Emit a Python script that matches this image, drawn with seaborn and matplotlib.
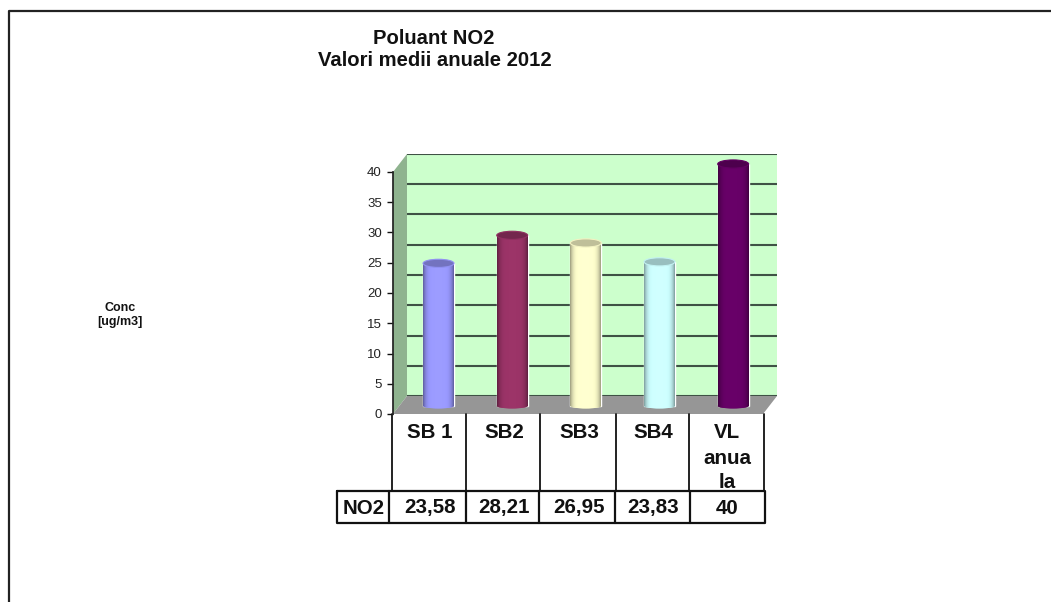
import matplotlib
matplotlib.use("Agg")
import matplotlib.pyplot as plt
import numpy as np
import seaborn as sns
from matplotlib.patches import Ellipse, Polygon

categorii = ["SB 1", "SB2", "SB3", "SB4", "VL anuala"]
etichete = ["SB 1", "SB2", "SB3", "SB4", "VL\nanua\nla"]
valori = [23.58, 28.21, 26.95, 23.83, 40]
valori_text = ["23,58", "28,21", "26,95", "23,83", "40"]
culori = ["#9999FF", "#993366", "#FFFFCC", "#CCFFFF", "#660066"]
y_ticks = [0, 5, 10, 15, 20, 25, 30, 35, 40]

W, H = 1051, 602
sns.set_theme(style="white")
plt.rcParams["font.family"] = ["Liberation Sans", "DejaVu Sans"]


def axe_px(fig, x0, x1, y0, y1):
    # pozitie in pixeli, y masurat de sus
    return fig.add_axes([x0 / W, 1 - y1 / H, (x1 - x0) / W, (y1 - y0) / H])


def umbrire(culoare):
    # gradient de cilindru: margini inchise, centru deschis
    rgb = np.array(matplotlib.colors.to_rgb(culoare))
    t = np.linspace(-1, 1, 64)
    f = 0.62 + 0.4 * np.clip(1 - np.abs(t) ** 5, 0, 1)
    return np.clip(rgb * f[:, None], 0, 1)[None, :, :]


fig = plt.figure(figsize=(W / 100, H / 100), dpi=100)

# fundal in pixeli: cadru, tabel, texte
bg = fig.add_axes([0, 0, 1, 1])
bg.set_xlim(0, W)
bg.set_ylim(H, 0)
bg.axis("off")
bg.plot([8.5, 8.5, W], [H, 11, 11], color="#222222", lw=1.6)

bg.add_patch(Polygon([(393, 172), (407, 154), (407, 396), (393, 414)], fc="#8FB38F", ec="none"))
bg.add_patch(Polygon([(393, 414), (407, 396), (777, 396), (763, 414)], fc="#969696", ec="none"))

titlu = dict(ha="center", va="center", fontsize=14.6, fontweight="bold", color="#111111")
bg.text(433.5, 38, "Poluant NO2", **titlu)
bg.text(435, 61, "Valori medii anuale 2012", **titlu)
bg.text(120, 315, "Conc\n[ug/m3]", ha="center", va="center", fontsize=9, fontweight="bold", color="#111111")

# tabelul de sub grafic
x_coloane = [392, 466, 540, 616, 689, 763.5]
for x in x_coloane:
    bg.plot([x, x], [414, 490], color="#111111", lw=1.3)
bg.plot([337, 765, 765, 337, 337], [491, 491, 523, 523, 491], color="#111111", lw=1.6)
for x in [389, 466, 539, 615, 690]:
    bg.plot([x, x], [491, 523], color="#111111", lw=1.6)
celula = dict(ha="center", va="center", fontsize=14.8, fontweight="bold", color="#111111")
bg.text(364, 508, "NO2", **celula)
for i in range(5):
    xc = (x_coloane[i] + x_coloane[i + 1]) / 2 + 1
    bg.text(xc, 508, valori_text[i], **celula)
    for j, rand in enumerate(etichete[i].split("\n")):
        bg.text(xc, 433 + j * 25, rand, **celula)

# peretele din spate
wall = axe_px(fig, 407, 777, 154, 396)
wall.set_facecolor("#CCFFCC")
wall.set_ylim(0, 40)
wall.set_yticks(y_ticks)
wall.set_xticks([])
wall.tick_params(labelleft=False, length=0)
wall.grid(axis="y", color="#3F5245", lw=1.5)
sns.despine(ax=wall, left=True, bottom=True, right=True, top=True)

# axa y din fata
ax_y = axe_px(fig, 393, 394, 172, 414)
ax_y.patch.set_alpha(0)
ax_y.set_ylim(0, 40)
ax_y.set_yticks(y_ticks)
ax_y.set_xticks([])
ax_y.tick_params(axis="y", length=4, width=1, color="#111111", labelsize=9.5, pad=4, left=True, labelcolor="#222222")
sns.despine(ax=ax_y, right=True, top=True, bottom=True)
ax_y.spines["left"].set_color("#222222")

# barele
ax = axe_px(fig, 401.7, 770, 406 - 42 * 6.05, 406 + 2 * 6.05)
ax.patch.set_alpha(0)
sns.barplot(x=categorii, y=valori, hue=categorii, palette=culori, saturation=1, width=0.42, legend=False, ax=ax)
ax.set_xlim(-0.5, 4.5)
ax.set_ylim(-2, 42)
ax.axis("off")

for bara, culoare in zip(ax.patches, culori):
    x0, w, h = bara.get_x(), bara.get_width(), bara.get_height()
    xc = x0 + w / 2
    baza = Ellipse((xc, 0), w, 0.8, fc=matplotlib.colors.to_rgb(culoare), ec="none", zorder=2)
    ax.add_patch(baza)
    for p in (bara, baza):
        p.set_zorder(2)
        ymin = -0.5 if p is baza else 0
        ymax = 0.1 if p is baza else h
        img = ax.imshow(umbrire(culoare), extent=(x0, x0 + w, ymin, ymax), aspect="auto", zorder=3, interpolation="bilinear")
        img.set_clip_path(p)
    rgb = np.array(matplotlib.colors.to_rgb(culoare))
    ax.add_patch(Ellipse((xc, h), w, 1.35, fc=rgb * 0.75, ec=rgb * 0.95, lw=0.8, zorder=4))
ax.set_xlim(-0.5, 4.5)
ax.set_ylim(-2, 42)

fig.savefig("out.png", dpi=100)
